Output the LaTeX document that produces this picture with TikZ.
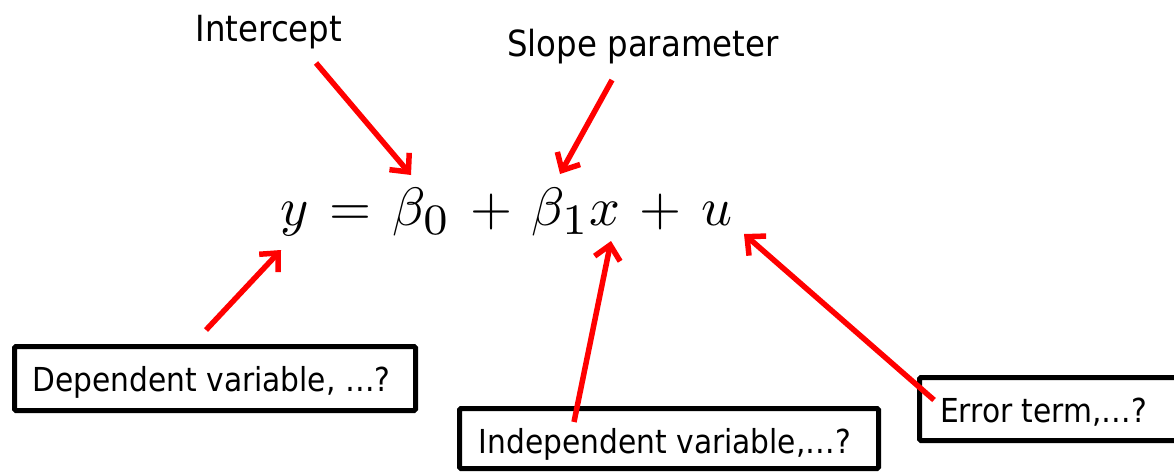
\documentclass[tikz,border=0pt]{standalone}
\usepackage{fontspec}
\setmainfont{DejaVu Sans Condensed}
\usetikzlibrary{arrows.meta}
\newcommand{\bigsub}[1]{\scalebox{1.15}{$\scriptstyle #1$}}
\begin{document}
\begin{tikzpicture}[x=1pt,y=-1pt,
  lbl/.style={inner sep=0pt,font=\fontsize{33}{40}\selectfont},
  toplbl/.style={inner sep=0pt,font=\fontsize{36}{42}\selectfont},
  boxed/.style={draw=black,line width=5pt,rounded corners=1.5pt},
  pointer/.style={draw=red,line width=5.5pt,-{Straight Barb[length=14pt,width=26pt]}}]
\clip (0,0) rectangle (1174,471);
\fill[white] (0,0) rectangle (1174,471);
% boxes
\draw[boxed] (14.5,346.5) rectangle (415.5,410.5);
\draw[boxed] (459.5,408.5) rectangle (878.5,468.5);
\draw[boxed] (919.5,377.5) rectangle (1200,440.5);
% labels
\node[toplbl,anchor=base] (icp) at (269,41) {Intercept};
\node[toplbl,anchor=base] (slp) at (643,56) {Slope parameter};
\node[lbl,anchor=base] (dep) at (211.5,391) {Dependent variable, …?};
\node[lbl,anchor=base] (ind) at (665,453) {Independent variable,…?};
\node[lbl,anchor=base west] (err) at (940,422) {Error term,…?};
% equation
\node[inner sep=0pt,anchor=base west] (eq) at (280,225)
  {\scalebox{5.4}{$\thickmuskip=7mu \medmuskip=6.5mu y = \beta_{\bigsub{0}} + \beta_{\bigsub{1}} x + u$}};
% arrow endpoints
\coordinate (a1s) at (316,63);  \coordinate (a1e) at (411,175);
\coordinate (a2s) at (612,80);  \coordinate (a2e) at (560,174);
\coordinate (a3s) at (206,330); \coordinate (a3e) at (281,250);
\coordinate (a4s) at (574,422); \coordinate (a4e) at (611,241);
\coordinate (a5s) at (934,400); \coordinate (a5e) at (744,234);
\draw[pointer] (a1s) -- (a1e);
\draw[pointer] (a2s) -- (a2e);
\draw[pointer] (a3s) -- (a3e);
\draw[pointer] (a4s) -- (a4e);
\draw[pointer] (a5s) -- (a5e);
\end{tikzpicture}
\end{document}
